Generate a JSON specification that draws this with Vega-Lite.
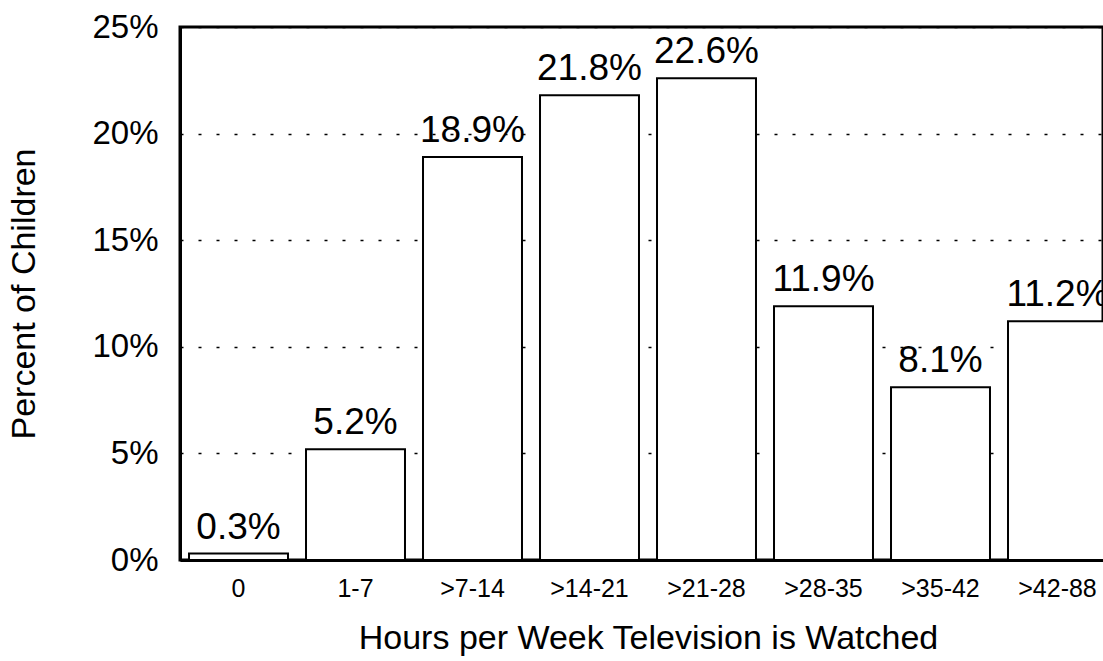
{
  "$schema": "https://vega.github.io/schema/vega-lite/v6.json",
  "autosize": {"type": "none"},
  "padding": {"left": 180, "top": 27, "right": 0, "bottom": 101},
  "width": 923,
  "height": 533,
  "background": "white",
  "config": {
    "font": "Liberation Sans",
    "view": {"stroke": "black", "strokeWidth": 3},
    "axis": {"domainColor": "black", "labelColor": "black", "titleColor": "black", "titleFontWeight": "normal"}
  },
  "data": {
    "values": [
      {"hours": "0", "pct": 0.3, "label": "0.3%"},
      {"hours": "1-7", "pct": 5.2, "label": "5.2%"},
      {"hours": ">7-14", "pct": 18.9, "label": "18.9%"},
      {"hours": ">14-21", "pct": 21.8, "label": "21.8%"},
      {"hours": ">21-28", "pct": 22.6, "label": "22.6%"},
      {"hours": ">28-35", "pct": 11.9, "label": "11.9%"},
      {"hours": ">35-42", "pct": 8.1, "label": "8.1%"},
      {"hours": ">42-88", "pct": 11.2, "label": "11.2%"}
    ]
  },
  "encoding": {
    "x": {
      "field": "hours", "type": "nominal", "sort": null,
      "scale": {"range": [0, 936], "paddingInner": 0.154, "paddingOuter": 0.077},
      "axis": {
        "title": "Hours per Week Television is Watched",
        "titleFontSize": 34, "titlePadding": 20,
        "labelFontSize": 25, "labelPadding": 16, "labelAngle": 0,
        "ticks": false, "domainWidth": 3
      }
    },
    "y": {
      "field": "pct", "type": "quantitative",
      "scale": {"domain": [0, 25], "nice": false},
      "axis": {
        "title": "Percent of Children",
        "titleFontSize": 34, "titlePadding": 50,
        "values": [0, 5, 10, 15, 20, 25],
        "labelExpr": "datum.value + '%'",
        "labelFontSize": 33, "labelPadding": 22,
        "ticks": false, "domainWidth": 3,
        "grid": true, "gridColor": "black", "gridOpacity": 1, "gridWidth": 1.5,
        "gridDash": [3, 15]
      }
    }
  },
  "layer": [
    {
      "mark": {"type": "bar", "fill": "white", "stroke": "black", "strokeWidth": 2}
    },
    {
      "mark": {"type": "text", "fontSize": 37, "baseline": "alphabetic", "dy": -15, "color": "black"},
      "encoding": {"text": {"field": "label", "type": "nominal"}}
    }
  ]
}
